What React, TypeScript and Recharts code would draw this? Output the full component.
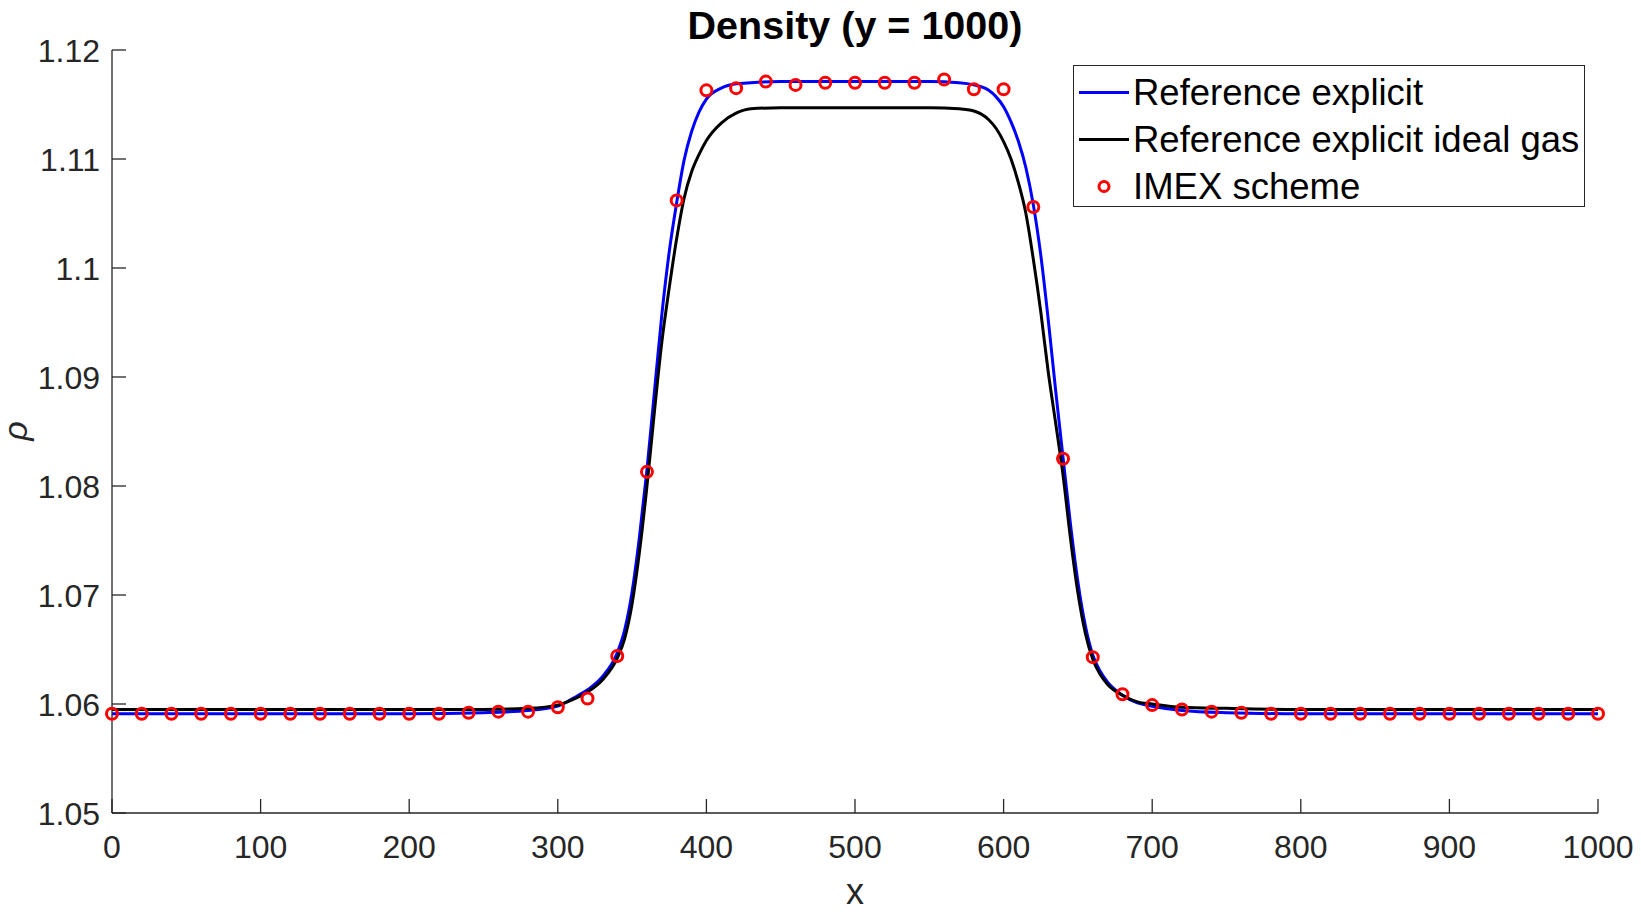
import React from "react";
import {
  ComposedChart,
  Line,
  Scatter,
  XAxis,
  YAxis,
  Legend
} from "recharts";

// x positions where the two reference curves are sampled
const lineX = [
  0, 100, 200, 250, 280, 300, 310, 320, 330, 340, 345, 350, 355, 360, 365,
  370, 375, 380, 385, 390, 395, 400, 410, 420, 430, 450, 500, 550, 570, 580,
  590, 595, 600, 605, 610, 615, 620, 625, 630, 635, 640, 645, 650, 655, 660,
  665, 670, 680, 690, 700, 720, 750, 800, 900, 1000
];

// "Reference explicit" (blue)
const refExplicit = [
  1.0591, 1.0591, 1.0591, 1.0592, 1.0594, 1.0598, 1.0605, 1.0613, 1.0625, 1.0647,
  1.0668, 1.0703, 1.0754, 1.0815, 1.0886, 1.0957, 1.1015, 1.106, 1.1099, 1.1125,
  1.1143, 1.1155, 1.1165, 1.1169, 1.117, 1.1171, 1.1171, 1.1171, 1.117, 1.1168,
  1.1163, 1.1157, 1.1148, 1.1134, 1.1116, 1.1092, 1.1058, 1.1012, 1.0953, 1.0888,
  1.0826, 1.0765, 1.0712, 1.0672, 1.0645, 1.063, 1.062, 1.0608, 1.0601, 1.0598,
  1.0594, 1.0592, 1.0591, 1.0591, 1.0591
];

// "Reference explicit ideal gas" (black)
const refIdealGas = [
  1.0595, 1.0595, 1.0595, 1.0595, 1.0596, 1.0599, 1.0604, 1.0611, 1.0622, 1.0642,
  1.066, 1.0692, 1.074, 1.08, 1.0868, 1.0932, 1.0982, 1.1027, 1.1064, 1.1088,
  1.1104, 1.1117, 1.1133, 1.1142, 1.1146, 1.1147, 1.1147, 1.1147, 1.1146, 1.1144,
  1.1136, 1.1128, 1.1116, 1.11, 1.1078, 1.105, 1.1008, 1.096, 1.0905, 1.0858,
  1.081, 1.0752, 1.0702, 1.0665, 1.0641, 1.0627, 1.0618, 1.0608, 1.0602, 1.06,
  1.0597, 1.0596, 1.0595, 1.0595, 1.0595
];

// IMEX scheme samples
const imexX = [
  0, 20, 40, 60, 80, 100, 120, 140, 160, 180, 200, 220, 240, 260, 280, 300,
  320, 340, 360, 380, 400, 420, 440, 460, 480, 500, 520, 540, 560, 580, 600,
  620, 640, 660, 680, 700, 720, 740, 760, 780, 800, 820, 840, 860, 880, 900,
  920, 940, 960, 980, 1000
];
const imexRho = [
  1.0591, 1.0591, 1.0591, 1.0591, 1.0591, 1.0591, 1.0591, 1.0591, 1.0591, 1.0591,
  1.0591, 1.0591, 1.0592, 1.0593, 1.0593, 1.0597, 1.0605, 1.0644, 1.0813, 1.1062,
  1.1163, 1.1165, 1.1171, 1.1168, 1.117, 1.117, 1.117, 1.117, 1.1173, 1.1164,
  1.1164, 1.1056, 1.0825, 1.0643, 1.0609, 1.0599, 1.0595, 1.0593, 1.0592, 1.0591,
  1.0591, 1.0591, 1.0591, 1.0591, 1.0591, 1.0591, 1.0591, 1.0591, 1.0591, 1.0591,
  1.0591
];

const xTicks = [0, 100, 200, 300, 400, 500, 600, 700, 800, 900, 1000];
const yTicks = [1.05, 1.06, 1.07, 1.08, 1.09, 1.1, 1.11, 1.12];

const blueData = lineX.map((x, i) => ({ x, y: refExplicit[i] }));
const blackData = lineX.map((x, i) => ({ x, y: refIdealGas[i] }));
const imexData = imexX.map((x, i) => ({ x, y: imexRho[i] }));

const FONT = "'Liberation Sans', Arial, Helvetica, sans-serif";
const AXIS = "#262626";
const TICK_LEN = 14;
// recharts treats tickSize 0 as unset, so use 1 and step back over it
const TS = 1;

const LeftTick = (props: any) => {
  const { x, y, payload } = props;
  const ax = x + TS;
  return (
    <g>
      <line x1={ax} x2={ax + TICK_LEN} y1={y} y2={y} stroke={AXIS} strokeWidth={1.3} />
      <text x={ax - 12} y={y + 12} textAnchor="end" fontSize={32} fill={AXIS} fontFamily={FONT}>
        {payload.value}
      </text>
    </g>
  );
};

const BottomTick = (props: any) => {
  const { x, y, payload } = props;
  const ay = y - TS;
  return (
    <g>
      <line x1={x} x2={x} y1={ay} y2={ay - TICK_LEN} stroke={AXIS} strokeWidth={1.3} />
      <text x={x} y={ay + 45} textAnchor="middle" fontSize={32} fill={AXIS} fontFamily={FONT}>
        {payload.value}
      </text>
    </g>
  );
};

const TopTick = (props: any) => {
  const { x, y } = props;
  const ay = y + TS;
  return <line x1={x} x2={x} y1={ay} y2={ay + TICK_LEN} stroke={AXIS} strokeWidth={1.3} />;
};

const RightTick = (props: any) => {
  const { x, y } = props;
  const ax = x - TS;
  return <line x1={ax} x2={ax - TICK_LEN} y1={y} y2={y} stroke={AXIS} strokeWidth={1.3} />;
};

const circleShape = (props: any) => (
  <circle cx={props.cx} cy={props.cy} r={5.5} fill="none" stroke="#ff0000" strokeWidth={3} />
);

const legendRows = [
  { label: "Reference explicit", kind: "line", color: "#0000ff" },
  { label: "Reference explicit ideal gas", kind: "line", color: "#000000" },
  { label: "IMEX scheme", kind: "circle", color: "#ff0000" }
];

const renderLegend = () => (
  <div
    style={{
      width: 512,
      height: 142,
      boxSizing: "border-box",
      border: `1.3px solid ${AXIS}`,
      background: "#fff",
      position: "relative",
      fontFamily: FONT
    }}
  >
    {legendRows.map((row, i) => (
      <div
        key={row.label}
        style={{
          position: "absolute",
          left: 0,
          top: 3 + i * 47,
          height: 47,
          width: "100%",
          display: "flex",
          alignItems: "center"
        }}
      >
        <svg width={59} height={47} style={{ flex: "none" }}>
          {row.kind === "line" ? (
            <line x1={5} x2={55} y1={23.5} y2={23.5} stroke={row.color} strokeWidth={3} />
          ) : (
            <circle cx={30} cy={23.5} r={5} fill="none" stroke={row.color} strokeWidth={3} />
          )}
        </svg>
        <span style={{ fontSize: 36.5, color: "#000", whiteSpace: "nowrap", lineHeight: "47px" }}>
          {row.label}
        </span>
      </div>
    ))}
  </div>
);

export default function App() {
  return (
    <div
      style={{
        position: "absolute",
        left: 0,
        top: 0,
        width: 1641,
        height: 912,
        background: "#fff"
      }}
    >
      <ComposedChart
        width={1641}
        height={912}
        margin={{ top: 50, right: 43, bottom: 0, left: 0 }}
      >
        <XAxis
          xAxisId="b"
          dataKey="x"
          type="number"
          domain={[0, 1000]}
          ticks={xTicks}
          interval={0}
          height={99}
          tickSize={TS}
          tickMargin={0}
          tickLine={false}
          axisLine={{ stroke: AXIS, strokeWidth: 1.3 }}
          tick={BottomTick}
        />
        <XAxis
          xAxisId="t"
          orientation="top"
          dataKey="x"
          type="number"
          domain={[0, 1000]}
          ticks={xTicks}
          interval={0}
          height={0}
          tickSize={TS}
          tickMargin={0}
          tickLine={false}
          axisLine={{ stroke: AXIS, strokeWidth: 1.3 }}
          tick={TopTick}
        />
        <YAxis
          yAxisId="l"
          type="number"
          domain={[1.05, 1.12]}
          ticks={yTicks}
          interval={0}
          width={112}
          tickSize={TS}
          tickMargin={0}
          tickLine={false}
          axisLine={{ stroke: AXIS, strokeWidth: 1.3 }}
          tick={LeftTick}
        />
        <YAxis
          yAxisId="r"
          orientation="right"
          type="number"
          domain={[1.05, 1.12]}
          ticks={yTicks}
          interval={0}
          width={0}
          tickSize={TS}
          tickMargin={0}
          tickLine={false}
          axisLine={{ stroke: AXIS, strokeWidth: 1.3 }}
          tick={RightTick}
        />
        <Line
          xAxisId="b"
          yAxisId="l"
          data={blueData}
          dataKey="y"
          type="monotone"
          stroke="#0000ff"
          strokeWidth={3}
          dot={false}
          activeDot={false}
          isAnimationActive={false}
        />
        <Line
          xAxisId="b"
          yAxisId="l"
          data={blackData}
          dataKey="y"
          type="monotone"
          stroke="#000000"
          strokeWidth={3}
          dot={false}
          activeDot={false}
          isAnimationActive={false}
        />
        <Scatter
          xAxisId="b"
          yAxisId="l"
          data={imexData}
          dataKey="y"
          shape={circleShape}
          isAnimationActive={false}
        />
        <Legend
          layout="horizontal"
          verticalAlign="middle"
          align="center"
          content={renderLegend}
          wrapperStyle={{ position: "absolute", left: 1073, top: 65, width: 512, height: 142 }}
        />
      </ComposedChart>
      <svg
        width={1641}
        height={912}
        style={{ position: "absolute", left: 0, top: 0, pointerEvents: "none" }}
      >
        <text x={855} y={39} textAnchor="middle" fontSize={39.5} fontWeight="bold" fill="#000" fontFamily={FONT}>
          Density (y = 1000)
        </text>
        <text x={855} y={904} textAnchor="middle" fontSize={36} fill={AXIS} fontFamily={FONT}>
          x
        </text>
        <text
          x={27}
          y={431}
          textAnchor="middle"
          fontSize={34}
          fontStyle="italic"
          fill={AXIS}
          fontFamily={FONT}
          transform="rotate(-90 27 431)"
        >
          ρ
        </text>
      </svg>
    </div>
  );
}
